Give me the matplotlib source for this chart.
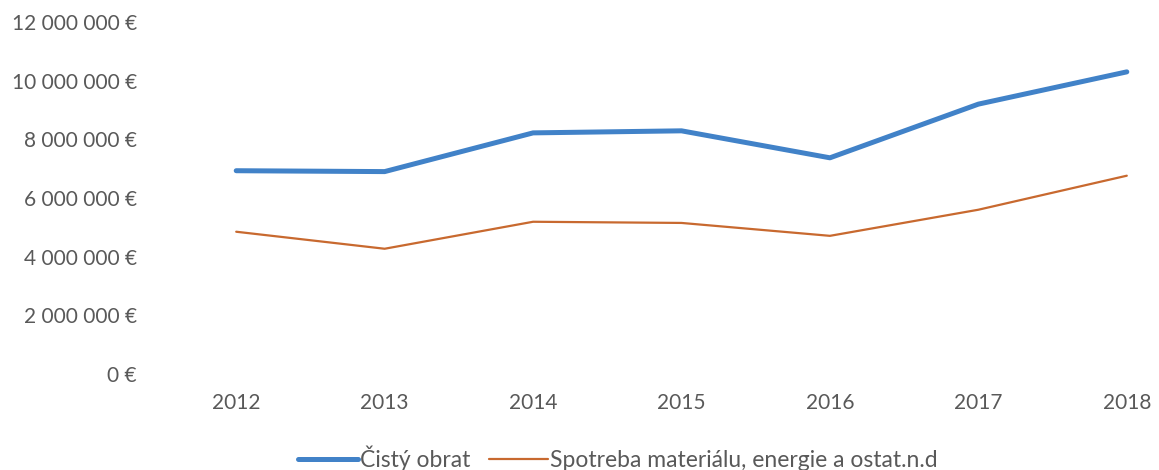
import matplotlib.pyplot as plt
from matplotlib.ticker import FuncFormatter

years = ['2012', '2013', '2014', '2015', '2016', '2017', '2018']
cisty_obrat = [6.93e6, 6.90e6, 8.22e6, 8.29e6, 7.37e6, 9.20e6, 10.30e6]
spotreba = [4.85e6, 4.27e6, 5.19e6, 5.15e6, 4.71e6, 5.60e6, 6.76e6]
series_names = ['Čistý obrat', 'Spotreba materiálu, energie a ostat.n.d']

plt.rcParams['font.family'] = ['Lato', 'DejaVu Sans']
text_color = '#595959'

fig = plt.figure(figsize=(11.59, 4.70), dpi=100)
# plot area runs slightly past the right edge, like the cropped scan
ax = fig.add_axes([162 / 1159, 96 / 470, 1039 / 1159, 352 / 470])

x = range(len(years))
ax.plot(x, cisty_obrat, color='#4182c8', lw=3.6, solid_capstyle='round',
        label=series_names[0], zorder=3)
ax.plot(x, spotreba, color='#c8692f', lw=1.6, solid_capstyle='round',
        label=series_names[1], zorder=3)

ax.set_xlim(-0.5, len(years) - 0.5)
ax.set_ylim(0, 12e6)
ax.set_yticks(range(0, 12000001, 2000000))
ax.yaxis.set_major_formatter(FuncFormatter(
    lambda v, p: '{:,.0f} €'.format(v).replace(',', ' ')))
ax.set_xticks(list(x))
ax.set_xticklabels(years)

for s in ax.spines.values():
    s.set_visible(False)
ax.tick_params(axis='both', length=0, labelsize=15, colors=text_color)
ax.tick_params(axis='y', pad=18)
ax.tick_params(axis='x', pad=14)

leg = fig.legend(loc='center', bbox_to_anchor=(618 / 1159, 1 - 458 / 470),
                 ncol=2, frameon=False, fontsize=16.5, handlelength=2.6,
                 handletextpad=0.1, columnspacing=0.8)
for t in leg.get_texts():
    t.set_color(text_color)

fig.savefig('out.png', dpi=100)
plt.close()
